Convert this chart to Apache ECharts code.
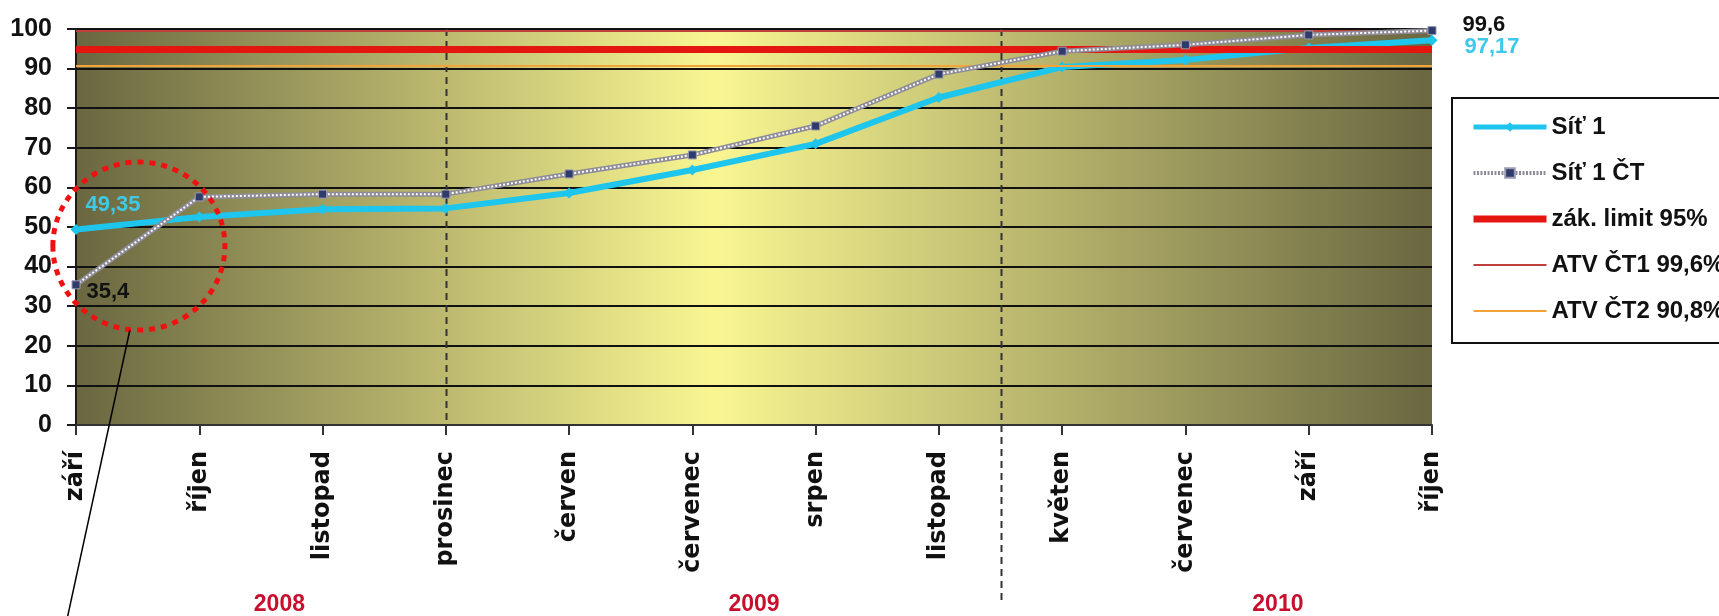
<!DOCTYPE html>
<html>
<head>
<meta charset="utf-8">
<title>Síť 1</title>
<script src="https://cdn.jsdelivr.net/npm/echarts@6/dist/echarts.min.js"></script>
<style>
  html, body { margin: 0; padding: 0; background: #fff; }
  #chart { width: 1719px; height: 616px; }
</style>
</head>
<body>
<div id="chart"></div>
<script>
// Months along the horizontal axis
const months = ['září', 'říjen', 'listopad', 'prosinec', 'červen', 'červenec',
                'srpen', 'listopad', 'květen', 'červenec', 'září', 'říjen'];

// Coverage (%) per month
const site1 = [49.35, 52.5, 54.5, 54.7, 58.6, 64.4, 71.0, 82.7, 90.4, 92.2, 95.2, 97.17];
const site1CT = [35.4, 57.6, 58.3, 58.3, 63.4, 68.2, 75.5, 88.6, 94.4, 96.0, 98.5, 99.6];

// Reference levels (%)
const legalLimit = 95;
const atvCT1 = 99.6;
const atvCT2 = 90.8;

// Value axis range
const yMin = 0, yMax = 100, yStep = 10;

// Year captions and where they sit along the month axis (fractional index)
const years = ['2008', '2009', '2010'];
const yearAt = [1.65, 5.5, 9.75];

// Year dividers (fractional month index)
const dividerAt = [3, 7.5];

// Highlight ring around the first two months
const ringAt = [0.51, 45.2];

const names = {
  s1: 'Síť 1',
  ct: 'Síť 1 ČT',
  limit: 'zák. limit 95%',
  atv1: 'ATV ČT1 99,6%',
  atv2: 'ATV ČT2 90,8%'
};

const colors = {
  s1: '#1ec5ec',
  ctBody: '#8e8c98',
  limit: '#e3170f',
  atv1: '#c0413c',
  atv2: '#f2a33a'
};

const fmt = v => String(v).replace('.', ',');
const BOLD = '"Liberation Sans", Arial, sans-serif';

// Attach value labels to chosen points
function withLabels(values, labelCfg) {
  return values.map((v, i) => labelCfg[i]
    ? { value: v, label: Object.assign({ show: true, formatter: p => fmt(p.value),
        fontFamily: BOLD, fontWeight: 'bold', fontSize: 22 }, labelCfg[i]) }
    : v);
}

const last = months.length - 1;
const site1Labels = {};
site1Labels[0] = { position: 'right', distance: 4, offset: [0, -25], color: '#3fc9e6' };
site1Labels[last] = { position: 'right', distance: 27, offset: [0, 7], color: '#3ec9ea' };
const ctLabels = {};
ctLabels[0] = { position: 'right', distance: 6, offset: [0, 7], color: '#111' };
ctLabels[last] = { position: 'right', distance: 26, offset: [0, -6], color: '#111' };

function refLine(name, value, color, width) {
  return {
    name: name, type: 'line', data: [], symbol: 'none', z: 2,
    lineStyle: { color: color, width: width },
    itemStyle: { color: color },
    markLine: {
      silent: true, symbol: ['none', 'none'],
      label: { show: false },
      lineStyle: { color: color, width: width, type: 'solid' },
      data: [{ yAxis: value }]
    }
  };
}

const chart = echarts.init(document.getElementById('chart'), null, { renderer: 'canvas' });

const noSymbol = { opacity: 0 };

const option = {
  animation: false,
  grid: {
    left: 76, right: 287, top: 29, bottom: 191,
    show: true, borderWidth: 0,
    backgroundColor: new echarts.graphic.LinearGradient(0, 0, 1, 0, [
      { offset: 0, color: '#6a6741' },
      { offset: 0.47, color: '#f9f692' },
      { offset: 1, color: '#6a6741' }
    ])
  },
  legend: {
    orient: 'vertical', left: 1452, top: 98,
    padding: [17, 40, 20, 18], itemGap: 22, itemWidth: 73, itemHeight: 12,
    borderColor: '#111', borderWidth: 2, backgroundColor: '#fff',
    textStyle: { fontFamily: BOLD, fontWeight: 'bold', fontSize: 24, color: '#111' },
    data: [
      { name: names.s1, lineStyle: { color: colors.s1, width: 5 } },
      { name: names.ct, lineStyle: { color: colors.ctBody, width: 4, type: [2, 1.5] } },
      { name: names.limit, lineStyle: { color: colors.limit, width: 7 }, itemStyle: noSymbol },
      { name: names.atv1, lineStyle: { color: colors.atv1, width: 2 }, itemStyle: noSymbol },
      { name: names.atv2, lineStyle: { color: colors.atv2, width: 2 }, itemStyle: noSymbol }
    ]
  },
  xAxis: {
    type: 'category', data: months, boundaryGap: false,
    axisLine: { lineStyle: { color: '#333', width: 2 } },
    axisTick: { show: true, length: 10, interval: 0, lineStyle: { color: '#333', width: 2 } },
    axisLabel: {
      interval: 0, rotate: 90, margin: 26, color: '#111',
      fontFamily: '"DejaVu Sans", sans-serif', fontWeight: 'bold', fontSize: 24
    },
    splitLine: { show: false }
  },
  yAxis: {
    type: 'value', min: yMin, max: yMax, interval: yStep,
    axisLine: { show: true, lineStyle: { color: '#1a1a1a', width: 2 } },
    axisTick: { show: true, length: 9, lineStyle: { color: '#1a1a1a', width: 2 } },
    axisLabel: { margin: 24, color: '#111', fontFamily: BOLD, fontWeight: 'bold', fontSize: 25 },
    splitLine: { show: true, lineStyle: { color: '#111', width: 2 } }
  },
  series: [
    refLine(names.limit, legalLimit, colors.limit, 7),
    refLine(names.atv1, atvCT1, colors.atv1, 2),
    refLine(names.atv2, atvCT2, colors.atv2, 2),
    {
      name: names.s1, type: 'line', z: 4,
      data: withLabels(site1, site1Labels),
      symbol: 'diamond', symbolSize: 11,
      lineStyle: { color: colors.s1, width: 6 },
      itemStyle: { color: colors.s1 }
    },
    {
      // grey body of the chain line
      name: 'ct-body', type: 'line', z: 5, silent: true,
      data: site1CT, symbol: 'none',
      lineStyle: { color: colors.ctBody, width: 5 }
    },
    {
      name: names.ct, type: 'line', z: 6,
      data: withLabels(site1CT, ctLabels),
      symbol: 'rect', symbolSize: 8,
      lineStyle: { color: '#ffffff', width: 2, type: [2, 2] },
      itemStyle: { color: '#2f3b6b', borderColor: '#9a9ab0', borderWidth: 1 }
    }
  ]
};

chart.setOption(option);

// Decorations positioned through the chart's own scales
const px = (i, v) => chart.convertToPixel({ gridIndex: 0 }, [i, v]);
function xAt(f) {
  const a = Math.floor(f), b = Math.ceil(f);
  const xa = px(a, 0)[0], xb = px(b, 0)[0];
  return xa + (xb - xa) * (f - a);
}
const yTop = px(0, yMax)[1];
const yBase = px(0, yMin)[1];

const graphics = [];
dividerAt.forEach((f, k) => {
  const x = Math.round(xAt(f)) + 0.5;
  graphics.push({
    type: 'line', z: 3,
    shape: { x1: x, y1: yTop, x2: x, y2: k === 0 ? yBase : 600 },
    style: { stroke: '#333', lineWidth: 2, lineDash: [7, 5] }
  });
});
years.forEach((t, k) => {
  graphics.push({
    type: 'text', z: 10,
    style: {
      text: t, x: xAt(yearAt[k]), y: 605, fill: '#c8102e',
      fontFamily: '"Liberation Sans Narrow", "Arial Narrow", "Liberation Sans", sans-serif',
      fontWeight: 'bold', fontSize: 23, align: 'center', verticalAlign: 'middle'
    }
  });
});
const cx = xAt(ringAt[0]);
const cy = px(0, ringAt[1])[1];
const rx = 86, ry = 84;
graphics.push({
  type: 'ellipse', z: 100,
  shape: { cx: cx, cy: cy, rx: rx, ry: ry },
  style: { fill: 'none', stroke: '#f01010', lineWidth: 5, lineDash: [6, 6] }
});
graphics.push({
  type: 'line', z: 100,
  shape: { x1: cx - 9, y1: cy + ry, x2: cx - 72, y2: 620 },
  style: { stroke: '#000', lineWidth: 1.5 }
});
chart.setOption({ graphic: { elements: graphics } });
</script>
</body>
</html>
